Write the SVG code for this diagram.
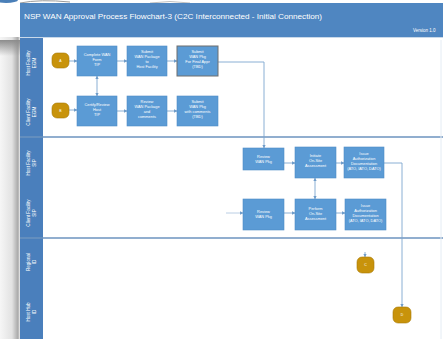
<svg xmlns="http://www.w3.org/2000/svg" width="443" height="339" viewBox="0 0 443 339">
  <defs>
    <linearGradient id="sideShade" x1="0" y1="0" x2="1" y2="0">
      <stop offset="0" stop-color="#f6f6f6"/>
      <stop offset="0.6" stop-color="#e2e2e2"/>
      <stop offset="0.9" stop-color="#a9a9a9"/>
      <stop offset="1" stop-color="#f0f0f0"/>
    </linearGradient>
    <linearGradient id="topShade" x1="0" y1="0" x2="0" y2="1">
      <stop offset="0" stop-color="#8c8c8c"/>
      <stop offset="1" stop-color="#8c8c8c" stop-opacity="0"/>
    </linearGradient>
    <marker id="arrow" viewBox="0 0 6 6" refX="5.5" refY="3" markerWidth="4" markerHeight="4" orient="auto-start-reverse">
      <path d="M0,0 L6,3 L0,6 Z" fill="#6f9cc9"/>
    </marker>
    <style>
      .title { font-family: "Liberation Sans", Arial, sans-serif; font-size: 7.4px; fill: #ffffff; }
      .version { font-family: "Liberation Sans", Arial, sans-serif; font-size: 4.5px; fill: #ffffff; }
      .lane { font-family: "Liberation Sans", Arial, sans-serif; font-size: 4.6px; fill: #ffffff; text-anchor: middle; }
      .box { fill: #5b9bd5; stroke: #4f8cc6; stroke-width: 0.6; }
      .box.dark { stroke: #6e6e6e; stroke-width: 1; }
      .btxt { font-family: "Liberation Sans", Arial, sans-serif; font-size: 3.9px; fill: #ffffff; text-anchor: middle; }
      .term { fill: #c8930b; stroke: #a87a08; stroke-width: 0.6; }
      .ttxt { font-family: "Liberation Sans", Arial, sans-serif; font-size: 3.5px; fill: #ffffff; text-anchor: middle; }
      .pool { fill: none; stroke: #6d93bf; stroke-width: 1.3; }
      .conn { fill: none; stroke: #7ea6cf; stroke-width: 0.9; }
    </style>
  </defs>

  <!-- window backdrop -->
  <rect x="0" y="0" width="443" height="339" fill="#ffffff"/>
  <rect x="0" y="37" width="20" height="302" fill="url(#sideShade)"/>
  <rect x="0" y="40" width="20" height="16" fill="url(#topShade)"/>
  <ellipse cx="6" cy="0" rx="12" ry="3" fill="#4a7fb8"/>
  <path d="M20,3 Q40,-1 70,2" fill="none" stroke="#9a9a9a" stroke-width="1"/>
  <path d="M150,3 Q170,0 190,3" fill="none" stroke="#b0b0b0" stroke-width="0.8"/>

  <!-- header -->
  <rect x="20" y="3" width="423" height="34" fill="#4f86c1"/>
  <text class="title" x="24" y="19" textLength="298" lengthAdjust="spacingAndGlyphs">NSP WAN Approval Process Flowchart-3 (C2C Interconnected - Initial Connection)</text>
  <text class="version" x="413" y="32">Version 1.0</text>

  <!-- lane label column -->
  <rect x="20" y="37" width="23" height="302" fill="#4a7fbc"/>
  <line x1="20" y1="37.5" x2="443" y2="37.5" stroke="#c9d9ea" stroke-width="1"/>

  <g id="lane-labels">
    <text class="lane" transform="translate(31,63) rotate(-90)"><tspan x="0" y="-1">Host Facility</tspan><tspan x="0" y="5">EGM</tspan></text>
    <text class="lane" transform="translate(31,112) rotate(-90)"><tspan x="0" y="-1">Client Facility</tspan><tspan x="0" y="5">EGM</tspan></text>
    <text class="lane" transform="translate(31,163) rotate(-90)"><tspan x="0" y="-1">Host Facility</tspan><tspan x="0" y="5">SIP</tspan></text>
    <text class="lane" transform="translate(31,213) rotate(-90)"><tspan x="0" y="-1">Client Facility</tspan><tspan x="0" y="5">SIP</tspan></text>
    <text class="lane" transform="translate(31,262) rotate(-90)"><tspan x="0" y="-1">Regional</tspan><tspan x="0" y="5">ID</tspan></text>
    <text class="lane" transform="translate(31,312) rotate(-90)"><tspan x="0" y="-1">Host Hub</tspan><tspan x="0" y="5">ID</tspan></text>
  </g>

  <!-- pool borders -->
  <g id="pools">
    <line class="pool" x1="20" y1="137" x2="443" y2="137"/>
    <line class="pool" x1="20" y1="238" x2="443" y2="238"/>
    <line x1="441" y1="40" x2="441" y2="339" stroke="#e4ecf4" stroke-width="1"/>
  </g>

  <!-- connectors -->
  <g id="connectors">
    <line class="conn" x1="69" y1="61" x2="77" y2="61" marker-end="url(#arrow)"/>
    <line class="conn" x1="117" y1="61" x2="127" y2="61" marker-end="url(#arrow)"/>
    <line class="conn" x1="167" y1="61" x2="177" y2="61" marker-end="url(#arrow)"/>
    <polyline class="conn" points="218,62 264,62 264,148" marker-end="url(#arrow)"/>
    <line class="conn" x1="69" y1="110" x2="77" y2="110" marker-end="url(#arrow)"/>
    <line class="conn" x1="117" y1="111" x2="127" y2="111" marker-end="url(#arrow)"/>
    <line class="conn" x1="167" y1="111" x2="177" y2="111" marker-end="url(#arrow)"/>
    <line class="conn" x1="97" y1="96" x2="97" y2="76" marker-start="url(#arrow)" marker-end="url(#arrow)"/>
    <line class="conn" x1="284" y1="163" x2="295" y2="163" marker-end="url(#arrow)"/>
    <line class="conn" x1="336" y1="163" x2="344" y2="163" marker-end="url(#arrow)"/>
    <line class="conn" x1="315" y1="178" x2="315" y2="199" marker-start="url(#arrow)" marker-end="url(#arrow)"/>
    <line class="conn" x1="226" y1="213" x2="243" y2="213" marker-end="url(#arrow)" stroke-opacity="0.6"/>
    <line class="conn" x1="284" y1="213" x2="295" y2="213" marker-end="url(#arrow)"/>
    <line class="conn" x1="336" y1="213" x2="345" y2="213" marker-end="url(#arrow)"/>
    <polyline class="conn" points="384,163 402,163 402,307" marker-end="url(#arrow)"/>
    <line class="conn" x1="365" y1="252" x2="365" y2="257" marker-end="url(#arrow)"/>
  </g>

  <!-- terminators -->
  <g id="start-host">
    <rect class="term" x="52" y="53" width="17" height="15" rx="5"/>
    <text class="ttxt" x="60.5" y="62">A</text>
  </g>
  <g id="start-client">
    <rect class="term" x="52" y="103" width="17" height="15" rx="5"/>
    <text class="ttxt" x="60.5" y="112">B</text>
  </g>
  <g id="end-regional">
    <rect class="term" x="357" y="257" width="17" height="16" rx="5"/>
    <text class="ttxt" x="365.5" y="266">C</text>
  </g>
  <g id="end-hub">
    <rect class="term" x="393" y="307" width="18" height="16" rx="5"/>
    <text class="ttxt" x="402" y="316">D</text>
  </g>

  <!-- host facility EGM -->
  <g id="complete-wan-form">
    <rect class="box" x="77" y="46" width="40" height="30"/>
    <text class="btxt"><tspan x="97" y="56">Complete WAN</tspan><tspan x="97" y="61">Form</tspan><tspan x="97" y="66">TIP</tspan></text>
  </g>
  <g id="submit-wan-package">
    <rect class="box" x="127" y="46" width="40" height="30"/>
    <text class="btxt"><tspan x="147" y="53">Submit</tspan><tspan x="147" y="58">WAN Package</tspan><tspan x="147" y="63">to</tspan><tspan x="147" y="68">Host Facility</tspan></text>
  </g>
  <g id="submit-final-approval">
    <rect class="box dark" x="177" y="46" width="41" height="30"/>
    <text class="btxt"><tspan x="197.5" y="53">Submit</tspan><tspan x="197.5" y="58">WAN Pkg</tspan><tspan x="197.5" y="63">For Final Appr</tspan><tspan x="197.5" y="68">(TBD)</tspan></text>
  </g>

  <!-- client facility EGM -->
  <g id="certify-host-tip">
    <rect class="box" x="77" y="96" width="40" height="30"/>
    <text class="btxt"><tspan x="97" y="106">Certify/Review</tspan><tspan x="97" y="111">Host</tspan><tspan x="97" y="116">TIP</tspan></text>
  </g>
  <g id="review-wan-package">
    <rect class="box" x="127" y="96" width="40" height="30"/>
    <text class="btxt"><tspan x="147" y="103">Review</tspan><tspan x="147" y="108">WAN Package</tspan><tspan x="147" y="113">and</tspan><tspan x="147" y="118">comments</tspan></text>
  </g>
  <g id="submit-with-comments">
    <rect class="box" x="177" y="96" width="41" height="30"/>
    <text class="btxt"><tspan x="197.5" y="103">Submit</tspan><tspan x="197.5" y="108">WAN Pkg</tspan><tspan x="197.5" y="113">with comments</tspan><tspan x="197.5" y="118">(TBD)</tspan></text>
  </g>

  <!-- host facility SIP -->
  <g id="host-review-wan">
    <rect class="box" x="243" y="148" width="41" height="22"/>
    <text class="btxt"><tspan x="263.5" y="158">Review</tspan><tspan x="263.5" y="163">WAN Pkg</tspan></text>
  </g>
  <g id="initiate-onsite">
    <rect class="box" x="295" y="147" width="41" height="31"/>
    <text class="btxt"><tspan x="315.5" y="157">Initiate</tspan><tspan x="315.5" y="162">On-Site</tspan><tspan x="315.5" y="167">Assessment</tspan></text>
  </g>
  <g id="host-issue-authorization">
    <rect class="box" x="344" y="147" width="40" height="31"/>
    <text class="btxt"><tspan x="364" y="155">Issue</tspan><tspan x="364" y="160">Authorization</tspan><tspan x="364" y="165">Documentation</tspan><tspan x="364" y="170">(ATO, IATO, DATO)</tspan></text>
  </g>

  <!-- client facility SIP -->
  <g id="client-review-wan">
    <rect class="box" x="243" y="199" width="41" height="31"/>
    <text class="btxt"><tspan x="263.5" y="213">Review</tspan><tspan x="263.5" y="218">WAN Pkg</tspan></text>
  </g>
  <g id="perform-onsite">
    <rect class="box" x="295" y="199" width="41" height="31"/>
    <text class="btxt"><tspan x="315.5" y="210">Perform</tspan><tspan x="315.5" y="215">On-Site</tspan><tspan x="315.5" y="220">Assessment</tspan></text>
  </g>
  <g id="client-issue-authorization">
    <rect class="box" x="345" y="199" width="41" height="31"/>
    <text class="btxt"><tspan x="365.5" y="207">Issue</tspan><tspan x="365.5" y="212">Authorization</tspan><tspan x="365.5" y="217">Documentation</tspan><tspan x="365.5" y="222">(ATO, IATO, DATO)</tspan></text>
  </g>
</svg>
